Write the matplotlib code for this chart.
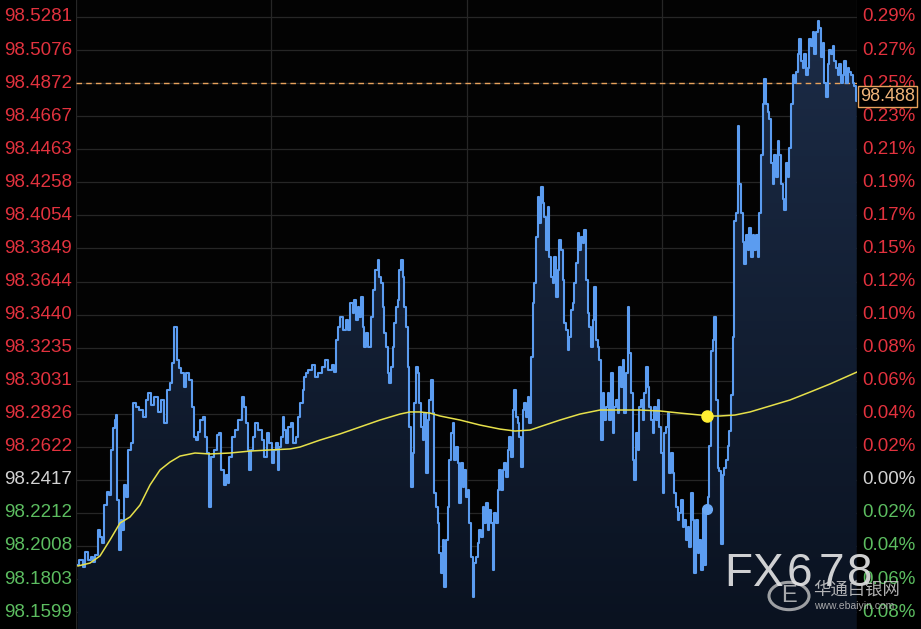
import numpy as np
import matplotlib
matplotlib.use("Agg")
import matplotlib.pyplot as plt
from matplotlib.patches import Circle

plt.rcParams['font.family'] = ['Liberation Sans', 'Noto Sans CJK SC', 'DejaVu Sans']

# time index (chart units, 0..781) and last price of the dollar index
t = [1.7, 5, 8, 10.7, 13, 16, 18, 20.7, 22.7, 25, 26.7, 29.3, 31.7, 34, 36, 37.7, 39.3, 40.7, 42, 43.7,
     45.3, 47.3, 49.3, 51.3, 53.3, 56, 58.3, 61.7, 65, 68.3, 70.7, 73.3, 76.7, 80, 83.3, 86.7, 90, 92.7, 95, 96.7,
     99.3, 101.7, 104, 106.7, 108.3, 111.7, 115, 116.7, 118.7, 120.7, 122.7, 125, 128.3, 130, 131.7, 134.5, 136, 139,
     142.3, 144, 146.7, 149, 151.3, 152.3, 154, 157.3, 160.7, 164, 167.3, 169, 170.7, 172.3, 174, 175.7, 177.3,
     180.7, 184, 187.3, 189, 192.3, 194, 197.3, 199, 200.7, 202.3, 204, 205.7, 207.3, 209, 210.7, 214, 215.7, 219,
     220.7, 222.3, 225.7, 227.3, 229, 230.7, 234, 237.3, 240.7, 244, 247.3, 250.7, 254, 257.3,
     259, 260.7, 262.3, 265.7, 269, 270.7, 272.3, 275.7, 277.3, 279, 280.7, 282.3, 284, 285.7, 287.3, 289, 290.7,
     294, 295.7, 297.3, 300.7, 302.3, 304, 305.7, 307.3, 309, 310.7, 312.3, 314, 315.7, 317.3, 319, 320.7, 322.3,
     324, 325.7, 327.3, 329, 330.7, 332.3, 334, 335.7, 337.3, 339, 340.7, 342.3, 344, 345.7, 347.3, 349, 350.7,
     352.3, 354, 355.7, 357.3, 359, 360.7, 362.3, 364, 365.7, 367.3, 369, 370.7, 372.3, 374, 375.7,
     377.3, 379, 380.7, 382.3, 384, 385.7, 387.3, 389, 390.7, 392.3, 394, 395.7, 397.3, 399, 400.7, 402.3, 404,
     405.7, 407.3, 409, 410.7, 412.3, 414, 415.7, 417.3, 419, 420.7, 422.3, 424, 425.7, 427.3, 429, 430.7, 432.3,
     434, 435.7, 437.3, 439, 440.7, 442.3, 444, 445.7, 447.3, 449, 450.7, 452.3, 454, 455.7, 457.3, 459, 460.7,
     462.3, 464, 465.7, 467.3, 469, 470.7, 472.3, 474, 475.7, 477.3, 479, 480.7, 482.3, 484, 485.7, 487.3, 489,
     490.7, 492.3, 494, 495.7, 497.3, 499, 500.7, 502.3, 504, 505.7, 507.3, 509, 510.7,
     512.3, 514, 515.7, 517.3, 519, 520.7, 522.3, 524, 525.7, 527.3, 529, 530.7, 532.3, 534, 535.7, 537.3, 539,
     540.7, 542.3, 544, 545.7, 547.3, 549, 550.7, 552.3, 554, 555.7, 557.3, 559, 560.7, 562.3, 564, 565.7, 567.3,
     569, 570.7, 572.3, 574, 575.7, 577.3, 579, 580.7, 582.3, 584, 585.7, 587.3, 589, 590.7, 592.3, 594, 595.7,
     597.3, 599, 600.7, 602.3, 604, 605.7, 607.3, 609, 610.7, 612.3, 614, 615.7, 617.3, 619, 620.7, 622.3, 624,
     625.7, 627.3, 629, 630.7, 632.3, 634, 635.7, 637.3, 639, 640.7, 642.3, 644, 645.7, 647.3, 649, 650.7, 652.3,
     654, 655.7, 657.3, 659, 660.7, 662.3, 664, 665.7, 667.3, 669, 670.7, 672.3, 674, 675.7, 677.3, 679, 680.7,
     682.3, 684, 685.7, 687.3, 689, 690.7, 692.3, 694, 695.7, 697.3, 699, 700.7, 702.3, 704, 705.7, 707.3, 709,
     710.7, 712.3, 714, 715.7, 717.3, 719, 720.7, 722.3, 724, 725.7, 727.3, 729, 730.7, 732.3, 734, 735.7, 737.3,
     739, 740.7, 742.3, 744, 745.7, 747.3, 749, 750.7, 752.3, 754, 755.7, 757.3, 759, 760.7, 762.3, 764, 765.7,
     767.3, 769, 770.7, 772.3, 774, 775.7, 777.3, 779, 780.7]

price = [98.1890, 98.1921, 98.1877, 98.1970, 98.1921, 98.1939, 98.1908, 98.1952, 98.2106, 98.2063, 98.2026,
         98.2261, 98.2342, 98.2323, 98.2602, 98.2738, 98.2787, 98.2818, 98.2292, 98.1983, 98.2168, 98.2106,
         98.2385, 98.2311, 98.2602, 98.2645, 98.2892, 98.2868, 98.2849, 98.2806, 98.2911, 98.2954, 98.2880,
         98.2930, 98.2837, 98.2911, 98.2769, 98.2973, 98.3016, 98.3140, 98.3363, 98.3158, 98.3109, 98.3078,
         98.2991, 98.3078, 98.3035, 98.2868, 98.2682, 98.2663, 98.2713, 98.2787, 98.2806, 98.2682, 98.2583,
         98.2249, 98.2558, 98.2602,
         98.2694, 98.2707, 98.2478, 98.2385, 98.2447, 98.2397, 98.2558, 98.2682, 98.2725, 98.2787, 98.2930,
         98.2868, 98.2769, 98.2602, 98.2478, 98.2602, 98.2682, 98.2769, 98.2725, 98.2663, 98.2558, 98.2707,
         98.2645, 98.2521, 98.2602, 98.2645, 98.2478, 98.2620, 98.2682, 98.2806, 98.2725, 98.2645, 98.2744,
         98.2769, 98.2645, 98.2682, 98.2806, 98.2892, 98.2973, 98.3053, 98.3078, 98.3097, 98.3128, 98.3053,
         98.3078, 98.3115, 98.3158, 98.3097, 98.3128,
         98.3084, 98.3282, 98.3363, 98.3425, 98.3344, 98.3406, 98.3344, 98.3511, 98.3449, 98.3530, 98.3406,
         98.3486, 98.3425, 98.3548, 98.3363, 98.3239, 98.3326, 98.3239, 98.3425, 98.3592, 98.3715, 98.3777,
         98.3672, 98.3635, 98.3486, 98.3326, 98.3239, 98.3078, 98.3016, 98.3115, 98.3239, 98.3387, 98.3486,
         98.3530, 98.3715, 98.3777, 98.3672, 98.3486, 98.3363, 98.3115, 98.2744, 98.2373, 98.2583, 98.2892,
         98.3115, 98.3078, 98.2892, 98.2744, 98.2663, 98.2830, 98.2459, 98.2787, 98.2911, 98.3035, 98.2830,
         98.2335, 98.2249, 98.2150, 98.1964, 98.1840, 98.2045, 98.1754, 98.2045, 98.2249, 98.2540, 98.2707,
         98.2769, 98.2540, 98.2620, 98.2521, 98.2274, 98.2521, 98.2373, 98.2478, 98.2311, 98.2354, 98.2150,
         98.1939, 98.1692, 98.1902, 98.1939, 98.2026, 98.2106, 98.2063, 98.2249, 98.2150, 98.2274, 98.2106,
         98.2230, 98.2150, 98.1859, 98.2212, 98.2150, 98.2354, 98.2478, 98.2354, 98.2478, 98.2521, 98.2434,
         98.2602, 98.2682, 98.2558, 98.2849, 98.2973, 98.2806, 98.2769, 98.2682, 98.2496, 98.2849, 98.2892,
         98.2806, 98.2930, 98.2769, 98.3177, 98.3511, 98.3635, 98.3920, 98.4167, 98.4006, 98.4229, 98.4130,
         98.4043, 98.3839, 98.4105, 98.3796, 98.3672, 98.3635, 98.3796, 98.3548, 98.3715, 98.3901, 98.3839,
         98.3654, 98.3387, 98.3344, 98.3220, 98.3301, 98.3468, 98.3511, 98.3635, 98.3759, 98.3944, 98.3839,
         98.3920, 98.3882, 98.3963, 98.3654,
         98.3449, 98.3363, 98.3239, 98.3406, 98.3610, 98.3282, 98.3239, 98.3158, 98.2663, 98.2954, 98.2787,
         98.2868, 98.2954, 98.2787, 98.3078, 98.2707, 98.2868, 98.2911, 98.2830, 98.3115, 98.2991, 98.3158,
         98.2830, 98.3078, 98.3486, 98.3202, 98.2954, 98.2540, 98.2416, 98.2707, 98.2602, 98.2868, 98.2911,
         98.2787, 98.2954, 98.3115, 98.2991, 98.2868, 98.2787, 98.2707, 98.2868, 98.2787, 98.2911, 98.2744,
         98.2583, 98.2335, 98.2707, 98.2744, 98.2830, 98.2459, 98.2583, 98.2459, 98.2335, 98.2249, 98.2168,
         98.2212, 98.2292, 98.2125, 98.2168, 98.2045, 98.2125, 98.2001, 98.2335, 98.2168, 98.1840, 98.2168,
         98.1964, 98.2045, 98.1859, 98.2224, 98.1890, 98.2236, 98.2311, 98.2626, 98.3214, 98.3282, 98.3425,
         98.2911, 98.2490, 98.2472, 98.2020, 98.2447, 98.2490, 98.2540, 98.2626, 98.2719, 98.2942, 98.3301,
         98.4019, 98.4068, 98.4607, 98.4248, 98.4068, 98.3889, 98.3753, 98.3932, 98.3839, 98.3975, 98.3796,
         98.3932, 98.3839, 98.3932, 98.3796, 98.4068, 98.4427, 98.4743, 98.4897, 98.4743, 98.4693, 98.4650,
         98.4378, 98.4248, 98.4427, 98.4291, 98.4514, 98.4427, 98.4248, 98.4155, 98.4087, 98.4378, 98.4291,
         98.4470, 98.4743, 98.4922, 98.4873, 98.4941, 98.5052, 98.5145, 98.5009, 98.4965, 98.5052, 98.4922,
         98.4965, 98.5145, 98.5102, 98.5188, 98.5052, 98.5188, 98.5256, 98.5213, 98.5034, 98.5120, 98.4873,
         98.4786, 98.4990, 98.5077, 98.5052, 98.5102, 98.5009, 98.4965, 98.4922, 98.4990, 98.4873, 98.4922,
         98.5009, 98.4873, 98.4965, 98.4941, 98.4922, 98.4873, 98.4854, 98.4761]

# moving average (yellow)
ma_t = [2, 14, 24, 34, 44, 54, 64, 74, 84, 94, 104, 119, 134, 154, 174, 194, 214, 224, 244, 264, 284, 304,
        324, 334, 344, 354, 364, 384, 404, 424, 439, 454, 469, 484, 504, 524, 544, 564, 584, 604, 624, 631,
        644, 659, 674, 694, 714, 734, 754, 781]
ma_price = [98.1884, 98.1902, 98.1946, 98.2045, 98.2150, 98.2187, 98.2261, 98.2385, 98.2478, 98.2527,
            98.2564, 98.2583, 98.2577, 98.2583, 98.2595, 98.2602, 98.2608, 98.2620, 98.2663, 98.2701,
            98.2744, 98.2787, 98.2824, 98.2837, 98.2837, 98.2830, 98.2812, 98.2787, 98.2756, 98.2731,
            98.2719, 98.2725, 98.2756, 98.2787, 98.2824, 98.2849, 98.2849, 98.2849, 98.2843, 98.2830,
            98.2818, 98.2812, 98.2812, 98.2818, 98.2837, 98.2874, 98.2911, 98.2960, 98.3010, 98.3084]

left_ticks = [98.5281, 98.5076, 98.4872, 98.4667, 98.4463, 98.4258, 98.4054, 98.3849, 98.3644, 98.3440,
              98.3235, 98.3031, 98.2826, 98.2622, 98.2417, 98.2212, 98.2008, 98.1803, 98.1599]
right_labels = ['0.29%', '0.27%', '0.25%', '0.23%', '0.21%', '0.19%', '0.17%', '0.15%', '0.12%', '0.10%',
                '0.08%', '0.06%', '0.04%', '0.02%', '0.00%', '0.02%', '0.04%', '0.06%', '0.08%']
base_price = 98.2417
last_price = 98.488
marker_t = 631
marker_yellow = 98.2812
marker_blue = 98.2236

RED = '#e2323e'
GREEN = '#5cbd60'
WHITE = '#d2d2d2'

fig = plt.figure(figsize=(9.21, 6.29), dpi=100, facecolor='black')
ax = fig.add_axes([76 / 921, 0, 781 / 921, 1])
ax.set_facecolor('#030303')
ymin, ymax = 98.1494, 98.5386
ax.set_xlim(0, 781)
ax.set_ylim(ymin, ymax)

# grid
for v in left_ticks:
    ax.axhline(v, color='#262626', lw=0.9, zorder=1)
for v in [0, 781 / 4, 781 / 2, 781 * 3 / 4, 781]:
    ax.axvline(v, color='#262626', lw=0.9, zorder=1)

# gradient fill under the price line
poly = ax.fill_between(t, price, ymin, color='none', lw=0)
grad = np.linspace(0, 1, 256).reshape(-1, 1)
cmap = matplotlib.colors.LinearSegmentedColormap.from_list('f', ['#0a1220', '#1c2c47'])
img = ax.imshow(grad, extent=[0, 781, ymin, 98.53], aspect='auto', cmap=cmap, origin='lower', zorder=2)
img.set_clip_path(poly.get_paths()[0], transform=ax.transData)

ax.plot(t, price, color='#5b9cf0', lw=1.5, drawstyle='steps-mid', zorder=4)
ax.plot(ma_t, ma_price, color='#e6e04a', lw=1.1, zorder=5)
ax.plot(marker_t, marker_yellow, 'o', color='#ffee33', ms=8, zorder=6)
ax.plot(marker_t, marker_blue, 'o', color='#6aa8f5', ms=7, zorder=6)

ax.axhline(last_price - 0.0008, color='#e8a25c', lw=1, ls=(0, (4, 3)), zorder=3)

ax.set_xticks([])
ax.set_yticks([])
for s in ax.spines.values():
    s.set_visible(False)

# axis labels, coloured relative to the base price
for v, lab in zip(left_ticks, right_labels):
    if abs(v - base_price) < 1e-4:
        c = WHITE
    elif v > base_price:
        c = RED
    else:
        c = GREEN
    ax.text(-4, v, f'{v:.4f}', color=c, fontsize=13.5, ha='right', va='center', clip_on=False)
    ax.text(786, v, lab, color=c, fontsize=13.5, ha='left', va='center', clip_on=False)

ax.text(784, last_price - 0.0092, f'{last_price:.3f}', color='#f0b47a', fontsize=13, ha='left', va='center',
        clip_on=False, zorder=8,
        bbox=dict(boxstyle='square,pad=0.12', fc='black', ec='#e8a25c', lw=1))

# watermark, letters spaced like the original logo
for ch, cx in zip('FX678', [738, 768, 799, 831, 860]):
    fig.text(cx / 921, 1 - 574 / 629, ch, color='#e6e6e6', fontsize=33, ha='center', va='center', alpha=0.9)
logo = Circle((789 / 921, 1 - 596 / 629), 20 / 921, transform=fig.transFigure, fill=False,
              ec='#d0d0d0', lw=2.2, alpha=0.75)
fig.patches.append(logo)
fig.text(789 / 921, 1 - 596 / 629, 'E', color='#d0d0d0', fontsize=17, ha='center', va='center', alpha=0.8)
fig.text(813 / 921, 1 - 589 / 629, '华通白银网', color='#d0d0d0', fontsize=12.5, ha='left', va='center', alpha=0.85)
fig.text(814 / 921, 1 - 606 / 629, 'www.ebaiyin.com', color='#c0c0c0', fontsize=7.5, ha='left', va='center',
         alpha=0.85)

fig.savefig('out.png', dpi=100, facecolor='black')
